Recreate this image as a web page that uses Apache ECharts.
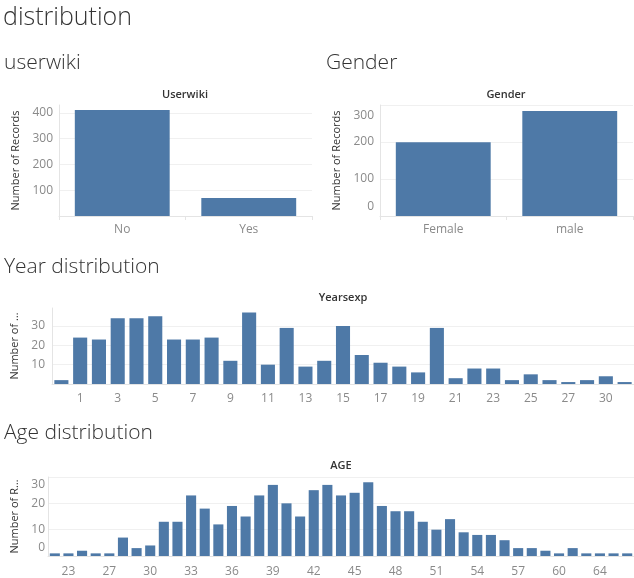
<!DOCTYPE html>
<html>
<head>
<meta charset="utf-8">
<script src="https://cdn.jsdelivr.net/npm/echarts@6/dist/echarts.min.js"></script>
<style>
html,body{margin:0;padding:0;background:#fff;}
#main{width:634px;height:578px;}
</style>
</head>
<body>
<div id="main"></div>
<script>
// ---- data ----
const userwikiCats = ['No', 'Yes'];
const userwikiVals = [412, 70];

const genderCats = ['Female', 'male'];
const genderVals = [199, 284];

const yearsCats = ['0','1','2','3','4','5','6','7','8','9','10','11','12','13','14','15','16','17','18','19','20','21','22','23','24','25','26','27','28','30','32'];
const yearsVals = [2,24,23,34,34,35,23,23,24,12,37,10,29,9,12,30,15,11,9,6,29,3,8,8,2,5,2,1,2,4,1];

const ageCats = ['22','23','24','26','27','28','29','30','31','32','33','34','35','36','37','38','39','40','41','42','43','44','45','46','47','48','49','50','51','52','53','54','55','56','57','58','59','60','61','63','64','65','66'];
const ageVals = [1,1,2,1,1,7,3,4,13,13,23,18,12,19,15,23,27,20,15,25,27,23,24,28,19,17,17,13,10,14,9,8,8,6,3,3,2,1,3,1,1,1,1];

const FONT = '"Open Sans", "Noto Sans", sans-serif';
const BAR = '#4e79a7';
const LBL = '#8a8a8a';
const GRID = '#f0f0f0';
const AXIS = '#e4e4e4';

function subTitle(text, left, top, size) {
  return { text, left, top, padding: 0,
    textStyle: { fontFamily: FONT, fontSize: size, fontWeight: 300, color: '#333' } };
}
function chartTitle(text, cx, top) {
  return { text, left: cx, top, padding: 0, textAlign: 'center',
    textStyle: { fontFamily: FONT, fontSize: 11, fontWeight: 600, color: '#333' } };
}
function xAx(grid, cats, opts) {
  return Object.assign({
    type: 'category', gridIndex: grid, data: cats,
    axisLine: { show: true, lineStyle: { color: AXIS } },
    axisTick: { show: false },
    axisLabel: { color: LBL, fontFamily: FONT, fontSize: 12, margin: 8 },
    splitLine: { show: false }
  }, opts || {});
}
function yAx(grid, max, interval, name, gap, nameMax, labelOpts, showMax) {
  return {
    type: 'value', gridIndex: grid, min: 0, max, interval,
    name, nameLocation: 'middle', nameGap: gap, nameRotate: 90,
    nameTruncate: { maxWidth: nameMax, ellipsis: '…' },
    nameTextStyle: { color: '#333', fontFamily: FONT, fontSize: 11 },
    axisLine: { show: true, lineStyle: { color: AXIS } },
    axisTick: { show: false },
    splitLine: { show: true, showMaxLine: showMax, lineStyle: { color: GRID } },
    axisLabel: Object.assign({ color: LBL, fontFamily: FONT, fontSize: 12, margin: 6 }, labelOpts || {})
  };
}

const chart = echarts.init(document.getElementById('main'), null, { renderer: 'canvas' });
chart.setOption({
  animation: false,
  backgroundColor: '#fff',
  title: [
    subTitle('distribution', 3, 5, 25),
    subTitle('userwiki', 4, 53, 21),
    subTitle('Gender', 326, 53, 21),
    subTitle('Year distribution', 4, 257, 21),
    subTitle('Age distribution', 4, 423, 21),
    chartTitle('Userwiki', 185, 89),
    chartTitle('Gender', 506, 89),
    chartTitle('Yearsexp', 343, 292),
    chartTitle('AGE', 341, 460)
  ],
  grid: [
    { left: 59, top: 105, width: 253, height: 111 },
    { left: 380, top: 105, width: 253, height: 111 },
    { left: 52, top: 308, width: 582, height: 76 },
    { left: 48, top: 477, width: 586, height: 80 }
  ],
  xAxis: [
    xAx(0, userwikiCats, { axisTick: { show: true, length: 4, lineStyle: { color: AXIS } }, axisLabel: { color: LBL, fontFamily: FONT, fontSize: 12, margin: 8 } }),
    xAx(1, genderCats, { axisTick: { show: true, length: 4, lineStyle: { color: AXIS } }, axisLabel: { color: LBL, fontFamily: FONT, fontSize: 12, margin: 8 } }),
    xAx(2, yearsCats, { axisLabel: { color: LBL, fontFamily: FONT, fontSize: 12, margin: 9, interval: (i) => i % 2 === 1 } }),
    xAx(3, ageCats, { axisLabel: { color: LBL, fontFamily: FONT, fontSize: 12, margin: 10, interval: (i) => i % 3 === 1 } })
  ],
  yAxis: [
    yAx(0, 431, 100, 'Number of Records', 38, 110, { formatter: v => (v === 0 || v % 100 !== 0) ? '' : String(v) }, false),
    yAx(1, 300, 100, 'Number of Records', 38, 110, {
      formatter: v => v === 0 ? '{lo|0}' : (v === 300 ? '{hi|300}' : String(v)),
      rich: { lo: { color: LBL, fontFamily: FONT, fontSize: 12, padding: [0, 0, 18, 0] },
              hi: { color: LBL, fontFamily: FONT, fontSize: 12, padding: [22, 0, 0, 0] } }
    }, true),
    yAx(2, 39.3, 10, 'Number of Records', 31, 70, { formatter: v => (v === 0 || v % 10 !== 0) ? '' : String(v), margin: 7 }, false),
    yAx(3, 30, 10, 'Number of Records', 27, 78, {
      margin: 3,
      formatter: v => v === 0 ? '{lo|0}' : (v === 30 ? '{hi|30}' : String(v)),
      rich: { lo: { color: LBL, fontFamily: FONT, fontSize: 12, padding: [0, 0, 16, 0] },
              hi: { color: LBL, fontFamily: FONT, fontSize: 12, padding: [16, 0, 0, 0] } }
    }, true)
  ],
  series: [
    { type: 'bar', xAxisIndex: 0, yAxisIndex: 0, data: userwikiVals, barWidth: '75%', itemStyle: { color: BAR } },
    { type: 'bar', xAxisIndex: 1, yAxisIndex: 1, data: genderVals, barWidth: '75%', itemStyle: { color: BAR } },
    { type: 'bar', xAxisIndex: 2, yAxisIndex: 2, data: yearsVals, barWidth: '75%', itemStyle: { color: BAR } },
    { type: 'bar', xAxisIndex: 3, yAxisIndex: 3, data: ageVals, barWidth: '74%', itemStyle: { color: BAR } }
  ]
});
</script>
</body>
</html>
